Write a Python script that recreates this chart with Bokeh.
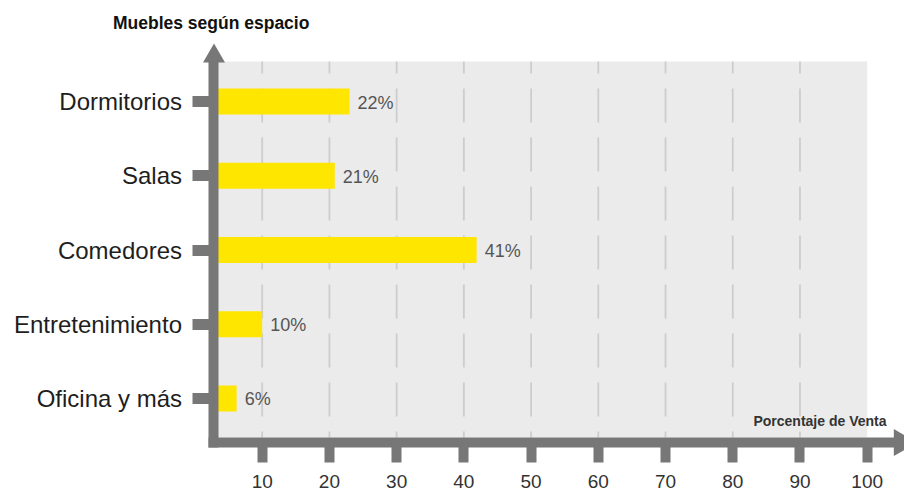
import math
from bokeh.plotting import figure
from bokeh.models import FactorRange, Range1d, Label, ColumnDataSource, FixedTicker
from bokeh.embed import file_html
from bokeh.resources import INLINE
from bokeh.core.properties import value

# ---- data ----
categories = ["Dormitorios", "Salas", "Comedores", "Entretenimiento", "Oficina y más"]
bar_values = [23.0, 20.8, 41.9, 10.0, 6.2]
pct_labels = ["22%", "21%", "41%", "10%", "6%"]
x_ticks = [10, 20, 30, 40, 50, 60, 70, 80, 90, 100]
y_title = "Muebles según espacio"
x_title = "Porcentaje de Venta"

# ---- layout / styling constants ----
FONT = "Liberation Sans"
AXIS_GRAY = "#777777"
YELLOW = "#ffe600"
BG_GRAY = "#ebebeb"
X_START, X_END = -28.93, 105.55       # data range spanning the canvas width
AXIS_X = 2.83                         # where the vertical axis sits
PLOT_RIGHT = 100
PAD = 0.7547                          # categorical padding on each side
GRAY_TOP = 5.04
GRAY_BOTTOM = -0.027
XAXIS_Y = -0.0944

src = ColumnDataSource(data=dict(cat=categories, val=bar_values, lab=pct_labels))

p = figure(width=904, height=491,
           y_range=FactorRange(factors=categories[::-1], range_padding=PAD,
                               range_padding_units="absolute"),
           x_range=Range1d(X_START, X_END),
           output_backend="svg", toolbar_location=None,
           min_border_left=0, min_border_right=0,
           min_border_top=8, min_border_bottom=0)
p.background_fill_color = "white"
p.border_fill_color = "white"
p.outline_line_color = None
p.xgrid.visible = False
p.ygrid.visible = False

# plotting area background
p.quad(left=[AXIS_X], right=[PLOT_RIGHT], top=[GRAY_TOP], bottom=[GRAY_BOTTOM],
       fill_color=BG_GRAY, line_color=None)

# dashed vertical grid lines
grid_x = [t for t in x_ticks if t < PLOT_RIGHT]
p.segment(x0=grid_x, y0=[GRAY_TOP] * len(grid_x), x1=grid_x, y1=[GRAY_BOTTOM] * len(grid_x),
          line_color="#cdcdcd", line_width=1.8, line_dash="34 15", line_dash_offset=22)

# bars and value labels
p.hbar(y="cat", left=AXIS_X, right="val", height=0.35, source=src,
       fill_color=YELLOW, line_color=None)
p.text(x="val", y="cat", text="lab", source=src, x_offset=8, y_offset=1,
       text_baseline="middle", text_align="left", text_color="#555555",
       text_font=value(FONT), text_font_size="18px")

# axes placed inside the frame
for ax in (p.xaxis[0], p.yaxis[0]):
    ax.axis_line_width = 10
    ax.axis_line_color = AXIS_GRAY
    ax.axis_line_cap = "square"
    ax.major_tick_line_color = AXIS_GRAY
    ax.major_tick_line_cap = "butt"
    ax.major_tick_in = 0
    ax.minor_tick_line_color = None
    ax.major_label_text_font = FONT

p.xaxis.fixed_location = XAXIS_Y
p.xaxis.bounds = (AXIS_X, 104.0)
p.xaxis.ticker = FixedTicker(ticks=x_ticks)
p.xaxis.major_tick_line_width = 10
p.xaxis.major_tick_out = 20
p.xaxis.major_label_text_font_size = "19px"
p.xaxis.major_label_text_color = "#333333"
p.xaxis.major_label_standoff = 12

p.yaxis.fixed_location = AXIS_X
p.yaxis.bounds = (XAXIS_Y, GRAY_TOP)
p.yaxis.major_tick_line_width = 11
p.yaxis.major_tick_out = 21
p.yaxis.major_label_text_font_size = "24px"
p.yaxis.major_label_text_color = "#1e1e1e"
p.yaxis.major_label_standoff = 11

# arrow heads
p.scatter(x=[AXIS_X], y=[5.1125], marker="triangle", size=22,
          fill_color=AXIS_GRAY, line_color=None)
p.scatter(x=[105.12], y=[XAXIS_Y], marker="triangle", size=27, angle=-math.pi / 2,
          fill_color=AXIS_GRAY, line_color=None)

# axis titles
p.add_layout(Label(x=2.41, y=5.566, text=y_title, text_align="center",
                   text_baseline="middle", text_font=FONT, text_font_style="bold",
                   text_font_size="17.5px", text_color="#111111"))
p.add_layout(Label(x=102.87, y=0.2021, text=x_title, text_align="right",
                   text_baseline="middle", text_font=FONT, text_font_style="bold",
                   text_font_size="14px", text_color="#333333"))

open("out.html", "w").write(file_html(p, INLINE))
